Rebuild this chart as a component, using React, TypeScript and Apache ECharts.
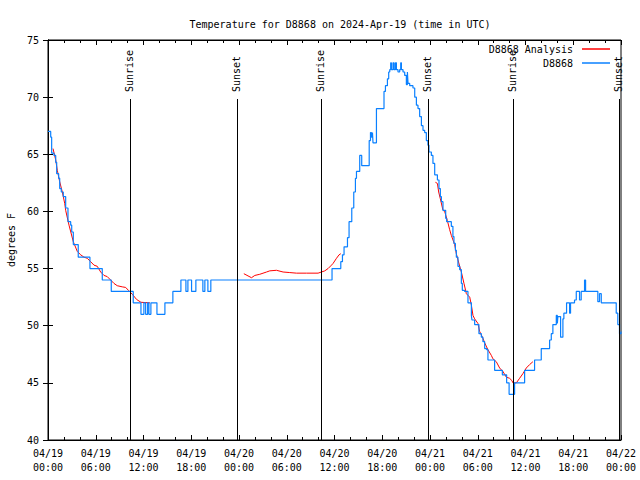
import React, { useEffect, useRef } from 'react';
import * as echarts from 'echarts';

// Hours since 2024-04-19 00:00 UTC
const xTickLabels = [
  '04/19\n00:00', '04/19\n06:00', '04/19\n12:00', '04/19\n18:00',
  '04/20\n00:00', '04/20\n06:00', '04/20\n12:00', '04/20\n18:00',
  '04/21\n00:00', '04/21\n06:00', '04/21\n12:00', '04/21\n18:00',
  '04/22\n00:00',
];

const sunTimes = [10.3, 23.69, 34.28, 47.79, 58.42, 71.81];
const sunLabels = ['Sunrise', 'Sunset', 'Sunrise', 'Sunset', 'Sunrise', 'Sunset'];

// Station observations [hour, degF] (value holds until next point)
const stationObs: [number, number][] = [
  [0, 67], [0.34, 66.5], [0.46, 65.1], [0.75, 64.9], [0.97, 64.3], [1.09, 63.3], [1.34, 62.9], [1.47, 62.0],
  [1.67, 61.7], [1.92, 61.3], [2.22, 60.3], [2.51, 59.1], [2.85, 58.8], [2.98, 58.2], [3.18, 57.1], [3.8, 56.0],
  [5.27, 55.0], [6.82, 54.0], [7.95, 53.0], [10.71, 52.0], [11.68, 51.0], [12.05, 52.0], [12.27, 51.0], [12.52, 52.0],
  [12.68, 51.0], [12.93, 52.0], [13.69, 51.0], [14.69, 52.0], [15.69, 53.0], [16.7, 54.0], [17.33, 53.0], [17.58, 54.0],
  [18.04, 53.0], [18.58, 54.0], [19.46, 53.0], [19.71, 54.0], [20.09, 53.0], [20.46, 54.0], [35.69, 55.0], [36.79, 55.6],
  [37.0, 56.2], [37.2, 56.9], [37.63, 57.7], [37.83, 59.1], [38.17, 60.3], [38.42, 61.7], [38.63, 62.9], [38.76, 63.5],
  [39.17, 64.9], [39.42, 64.0], [40.36, 66.2], [40.52, 66.9], [40.64, 66.5], [40.77, 66.9], [40.84, 66.0], [41.27, 69.0],
  [42.22, 70.5], [42.4, 71.0], [42.65, 71.6], [42.81, 72.2], [42.94, 72.4], [43.06, 73.0], [43.15, 72.4], [43.35, 73.0],
  [43.48, 72.4], [43.65, 73.0], [43.78, 72.4], [43.98, 72.2], [44.19, 72.4], [44.32, 73.0], [44.41, 72.4], [44.61, 72.2],
  [44.82, 71.9], [45.03, 71.1], [45.16, 72.2], [45.24, 71.2], [45.45, 71.0], [45.86, 70.8], [46.08, 70.0], [46.29, 69.3],
  [46.49, 69.0], [46.7, 68.3], [46.92, 67.5], [47.12, 67.1], [47.33, 66.9], [47.54, 66.2], [47.74, 65.8], [47.87, 65.2],
  [48.17, 64.9], [48.37, 64.2], [48.59, 63.2], [48.93, 62.75], [49.13, 62.0], [49.3, 61.3], [49.43, 60.85], [49.63, 60.1],
  [49.97, 59.4], [50.09, 59.1], [50.68, 58.7], [50.88, 57.8], [51.01, 57.2], [51.19, 56.6], [51.31, 56.0], [51.51, 55.2],
  [51.73, 54.9], [51.94, 53.7], [52.06, 53.1], [52.35, 53.0], [52.77, 52.0], [53.2, 50.9], [53.27, 50.5], [53.61, 50.1],
  [54.15, 49.3], [54.45, 49.0], [54.65, 48.6], [54.87, 48.0], [55.12, 47.9], [55.28, 47.0], [56.12, 46.1], [57.09, 45.7],
  [57.63, 45.0], [57.94, 44.0], [58.63, 45.0], [59.89, 46.1], [61.14, 47.0], [61.98, 48.0], [63.03, 48.75], [63.24, 49.3],
  [63.44, 50.1], [63.87, 50.9], [64.0, 50.2], [64.07, 50.8], [64.41, 49.0], [64.7, 50.6], [64.82, 51.1], [65.16, 52.0],
  [65.54, 51.1], [65.66, 52.0], [66.16, 52.25], [66.38, 53.0], [66.79, 52.25], [67.0, 53.0], [67.42, 54.0], [67.55, 53.0],
  [69.09, 52.1], [69.3, 52.8], [69.52, 52.0], [71.4, 51.1], [71.6, 50.1], [71.81, 49.3], [72, 49.5],
];

// Analysis segments [hour, degF]
const analysisA: [number, number][] = [
  [0.63, 65.5], [0.97, 64.5], [1.17, 63.6], [1.47, 62.6], [1.8, 61.7], [2.1, 60.7], [2.22, 60.1], [2.64, 58.8],
  [3.18, 57.35], [3.68, 56.5], [4.11, 56.2], [4.52, 56.0], [4.93, 55.9], [5.36, 55.6], [5.78, 55.3], [6.19, 55.2],
  [6.62, 54.7], [7.03, 54.4], [7.44, 54.3], [7.87, 54.0], [8.29, 53.7], [8.7, 53.5], [9.33, 53.4], [9.76, 53.35],
  [10.1, 53.1], [10.6, 52.75], [11.13, 52.3], [11.68, 52.05], [12.81, 52.0],
];
const analysisB: [number, number][] = [
  [24.61, 54.55], [25.57, 54.2], [25.99, 54.4], [26.61, 54.5], [27.46, 54.7], [27.87, 54.8], [28.71, 54.85],
  [29.54, 54.7], [30.38, 54.65], [31.22, 54.6], [32.48, 54.6], [33.94, 54.6], [34.36, 54.7], [34.78, 54.8],
  [35.19, 55.0], [35.62, 55.3], [35.82, 55.45], [36.25, 55.9], [36.57, 56.2], [36.79, 56.3],
];
const analysisC: [number, number][] = [
  [48.68, 62.55], [48.93, 62.45], [49.09, 61.7], [49.3, 61.1], [49.63, 60.1], [49.84, 60.0], [50.18, 59.2],
  [50.47, 58.4], [50.68, 57.9], [51.1, 57.1], [51.31, 56.3], [51.73, 55.2], [51.94, 54.7], [52.27, 53.7],
  [52.57, 52.8], [52.99, 52.5], [53.2, 51.8], [53.4, 50.9], [53.61, 50.6], [54.02, 50.2], [54.24, 49.5],
  [54.65, 48.9], [54.87, 48.5], [55.28, 47.9], [55.71, 47.4], [55.91, 47.1], [56.33, 46.85], [56.75, 46.3],
  [57.16, 46.0], [57.59, 45.5], [58.0, 45.4], [58.29, 45.2], [58.42, 45.0], [58.85, 45.0], [59.26, 45.4],
  [59.67, 45.8], [60.1, 46.3], [60.52, 46.6], [60.93, 46.85],
];

const FONT = 'DejaVu Sans Mono';
const RED = '#ff0000';
const BLUE = '#0a80ff';

export default function App() {
  const ref = useRef<HTMLDivElement>(null);
  useEffect(() => {
    const chart = echarts.init(ref.current!, null, { renderer: 'svg' });
    const txt = { fontFamily: FONT, fontSize: 10, color: '#000' };
    const xBase = {
      type: 'value', min: 0, max: 72, interval: 6,
      axisLine: { show: true, lineStyle: { color: '#000', width: 1 } },
      axisTick: { show: true, inside: true, length: 5, lineStyle: { color: '#000' } },
      minorTick: { show: true, splitNumber: 3, length: 3, lineStyle: { color: '#000' } },
      splitLine: { show: false }, minorSplitLine: { show: false },
    };
    const yBase = {
      type: 'value', min: 40, max: 75, interval: 5,
      axisLine: { show: true, lineStyle: { color: '#000', width: 1 } },
      axisTick: { show: true, inside: true, length: 5, lineStyle: { color: '#000' } },
      splitLine: { show: false },
    };
    const redLine = (data: [number, number][]) => ({
      type: 'line', name: 'D8868 Analysis', data, showSymbol: false, symbol: 'none',
      lineStyle: { color: RED, width: 1 }, itemStyle: { color: RED }, z: 2,
    });
    const legendBase = {
      orient: 'horizontal', align: 'right', right: 30, padding: 0, selectedMode: false,
      icon: 'rect', itemWidth: 28, itemHeight: 1.5,
      textStyle: { ...txt, padding: [0, 4, 0, 0] },
    };
    chart.setOption({
      animation: false,
      backgroundColor: '#fff',
      title: {
        text: 'Temperature for D8868 on 2024-Apr-19 (time in UTC)',
        left: 335, top: 14, textAlign: 'center',
        textStyle: { ...txt, fontWeight: 'normal' },
      },
      legend: [
        { ...legendBase, top: 44, data: ['D8868 Analysis'] },
        { ...legendBase, top: 58, data: ['D8868'] },
      ],
      grid: {
        left: 48, right: 19, top: 40, bottom: 40, show: true, borderColor: '#000', borderWidth: 1,
        containLabel: false, outerBoundsMode: 'none',
      },
      xAxis: [
        {
          ...xBase, position: 'bottom',
          axisLabel: {
            ...txt, margin: 6, lineHeight: 14,
            formatter: (v: number) => xTickLabels[Math.round(v / 6)] ?? '',
          },
        },
        { ...xBase, position: 'top', axisLabel: { show: false } },
      ],
      yAxis: [
        {
          ...yBase, position: 'left', name: 'degrees F', nameLocation: 'middle', nameGap: 32, nameRotate: 90,
          nameTextStyle: txt,
          axisLabel: { ...txt, margin: 9 },
        },
        { ...yBase, position: 'right', axisLabel: { show: false } },
      ],
      series: [
        redLine(analysisA),
        redLine(analysisB),
        redLine(analysisC),
        {
          type: 'line', name: 'D8868', data: stationObs, step: 'end', showSymbol: false, symbol: 'none',
          lineStyle: { color: BLUE, width: 1.2 }, itemStyle: { color: BLUE }, z: 3,
        },
        {
          type: 'custom', name: 'sun', z: 4, silent: true,
          data: sunTimes.map((t) => [t, 40]),
          renderItem: (params: any, api: any) => {
            const cs = params.coordSys;
            const p = api.coord([api.value(0), 40]);
            const x = Math.round(p[0]) + 0.5;
            const bottom = cs.y + cs.height;
            const lineTop = cs.y + cs.height * 0.1475;
            const textBottom = cs.y + cs.height * 0.13;
            return {
              type: 'group',
              children: [
                { type: 'line', shape: { x1: x, y1: bottom, x2: x, y2: lineTop }, style: { stroke: '#000', lineWidth: 1 } },
                {
                  type: 'text', x: x - 1, y: textBottom, rotation: Math.PI / 2,
                  style: {
                    text: sunLabels[params.dataIndex], fill: '#000',
                    font: `10px ${FONT}`, align: 'left', verticalAlign: 'middle',
                  },
                },
              ],
            };
          },
        },
      ],
    });
    return () => chart.dispose();
  }, []);
  return (
    <div
      ref={ref}
      style={{ position: 'fixed', left: 0, top: 0, width: 640, height: 480, background: '#fff' }}
    />
  );
}
